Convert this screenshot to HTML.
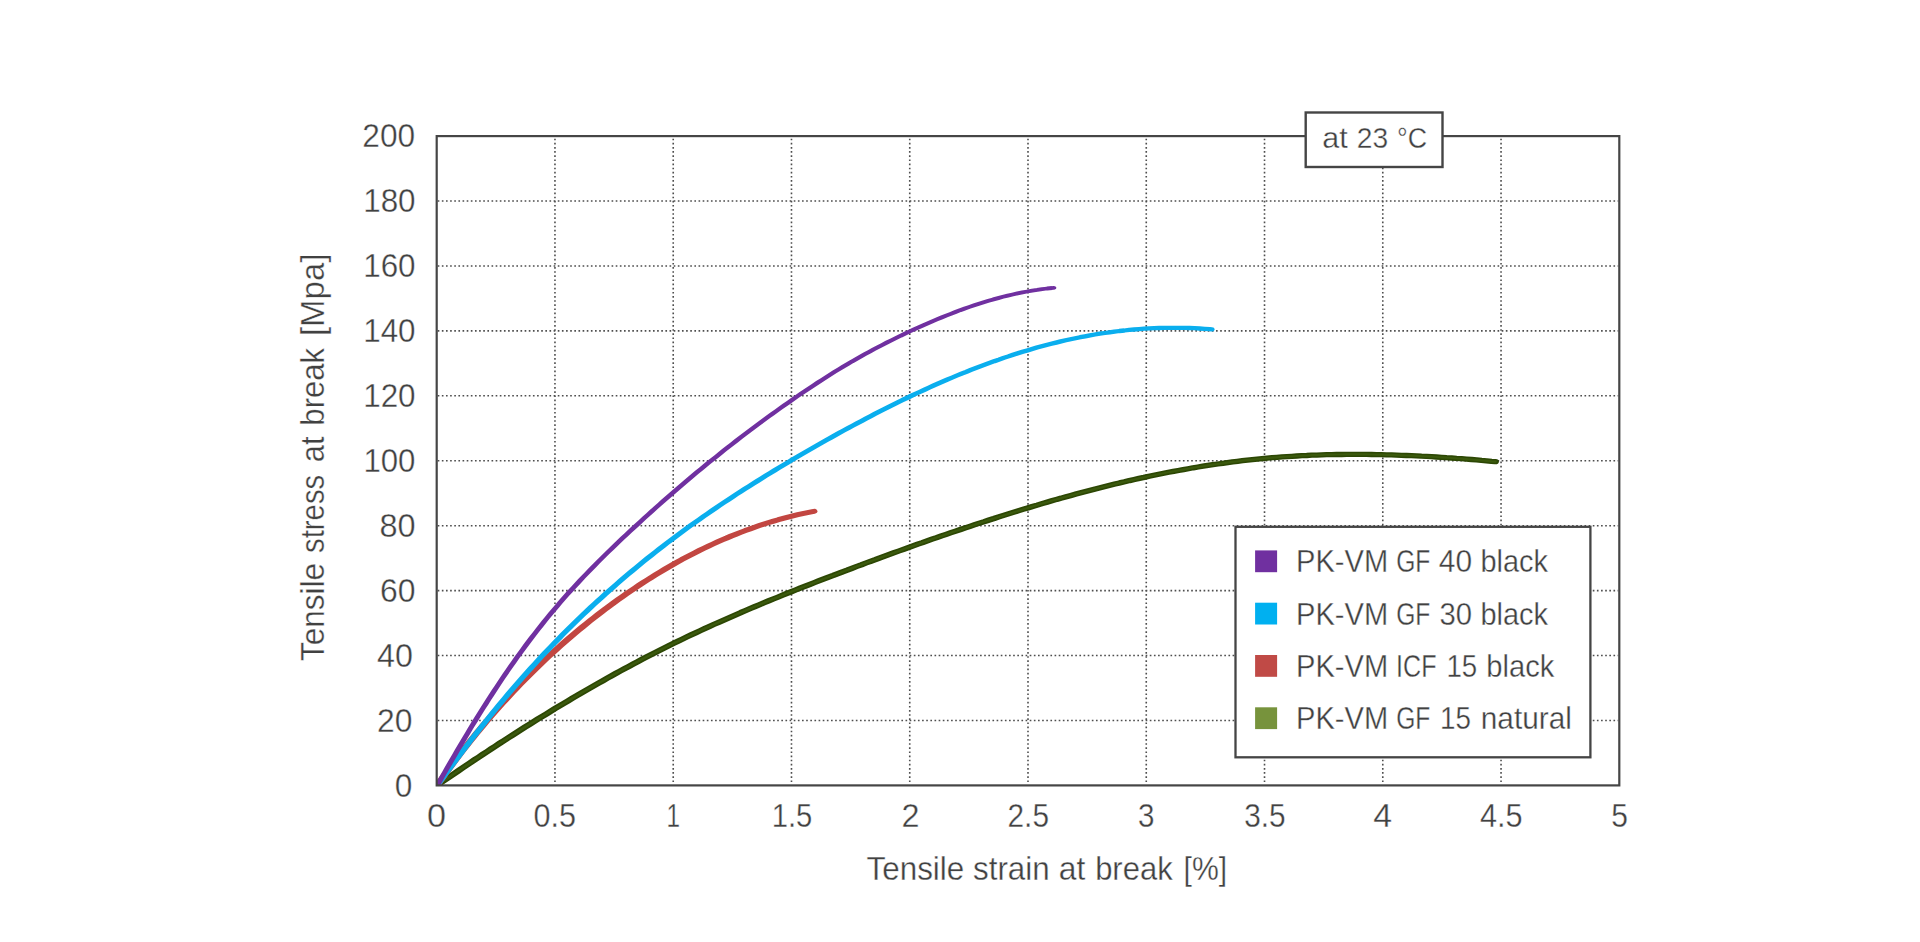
<!DOCTYPE html>
<html lang="en">
<head>
<meta charset="utf-8">
<title>Tensile stress at break vs. tensile strain at break</title>
<style>
html,body{margin:0;padding:0;background:#fff;}
body{width:1920px;height:942px;overflow:hidden;}
svg{display:block;}
svg text{font-family:"Liberation Sans",sans-serif;fill:#414141;stroke:#ffffff;stroke-width:0.35px;}
</style>
</head>
<body>
<svg width="1920" height="942" viewBox="0 0 1920 942">
<rect width="1920" height="942" fill="#ffffff"/>
<g stroke="#4e4e4e" stroke-width="1.6" stroke-dasharray="1.65 2.49" fill="none">
<line x1="554.96" y1="138.70" x2="554.96" y2="784.40"/>
<line x1="673.22" y1="138.70" x2="673.22" y2="784.40"/>
<line x1="791.48" y1="138.70" x2="791.48" y2="784.40"/>
<line x1="909.74" y1="138.70" x2="909.74" y2="784.40"/>
<line x1="1028.00" y1="138.70" x2="1028.00" y2="784.40"/>
<line x1="1146.26" y1="138.70" x2="1146.26" y2="784.40"/>
<line x1="1264.52" y1="138.70" x2="1264.52" y2="784.40"/>
<line x1="1382.78" y1="138.70" x2="1382.78" y2="784.40"/>
<line x1="1501.04" y1="138.70" x2="1501.04" y2="784.40"/>
<line x1="437.70" y1="720.47" x2="1618.30" y2="720.47"/>
<line x1="437.70" y1="655.54" x2="1618.30" y2="655.54"/>
<line x1="437.70" y1="590.61" x2="1618.30" y2="590.61"/>
<line x1="437.70" y1="525.68" x2="1618.30" y2="525.68"/>
<line x1="437.70" y1="460.75" x2="1618.30" y2="460.75"/>
<line x1="437.70" y1="395.82" x2="1618.30" y2="395.82"/>
<line x1="437.70" y1="330.89" x2="1618.30" y2="330.89"/>
<line x1="437.70" y1="265.96" x2="1618.30" y2="265.96"/>
<line x1="437.70" y1="201.03" x2="1618.30" y2="201.03"/>
</g>
<clipPath id="plotclip"><rect x="436.7" y="136.1" width="1182.6" height="649.3"/></clipPath>
<g clip-path="url(#plotclip)"><g fill="none" stroke-linecap="round" stroke-linejoin="round" transform="scale(1.4,1)">
<path d="M312.50,785.0 L315.43,782.2 L318.36,779.4 L321.30,776.6 L324.24,773.8 L327.19,771.0 L330.14,768.2 L333.10,765.4 L336.06,762.6 L339.03,759.8 L342.01,757.1 L344.99,754.3 L347.98,751.6 L350.97,748.8 L353.96,746.1 L356.97,743.3 L359.97,740.6 L362.98,737.9 L366.00,735.2 L369.02,732.5 L372.05,729.8 L375.08,727.1 L378.12,724.4 L381.16,721.8 L384.21,719.1 L387.27,716.5 L390.32,713.9 L393.39,711.2 L396.45,708.6 L399.53,706.0 L402.60,703.5 L405.68,700.9 L408.77,698.3 L411.86,695.8 L414.96,693.2 L418.06,690.7 L421.17,688.2 L424.28,685.7 L427.39,683.2 L430.51,680.8 L433.64,678.3 L436.77,675.9 L439.90,673.4 L443.04,671.0 L446.18,668.6 L449.33,666.3 L452.48,663.9 L455.63,661.6 L458.80,659.2 L461.96,656.9 L465.13,654.6 L468.30,652.4 L471.48,650.1 L474.66,647.9 L477.85,645.6 L481.04,643.4 L484.23,641.3 L487.43,639.1 L490.64,636.9 L493.84,634.8 L497.06,632.7 L500.27,630.6 L503.49,628.5 L506.71,626.5 L509.94,624.4 L513.17,622.4 L516.41,620.4 L519.65,618.4 L522.89,616.4 L526.14,614.4 L529.39,612.4 L532.64,610.5 L535.90,608.5 L539.16,606.6 L542.43,604.7 L545.70,602.8 L548.97,600.9 L552.25,599.0 L555.53,597.2 L558.82,595.3 L562.11,593.4 L565.40,591.6 L568.69,589.8 L571.99,587.9 L575.29,586.1 L578.60,584.3 L581.91,582.5 L585.22,580.7 L588.54,578.9 L591.86,577.1 L595.18,575.4 L598.51,573.6 L601.84,571.8 L605.17,570.1 L608.51,568.3 L611.84,566.5 L615.19,564.8 L618.53,563.0 L621.88,561.3 L625.23,559.6 L628.59,557.8 L631.95,556.1 L635.31,554.4 L638.67,552.7 L642.04,551.0 L645.41,549.3 L648.78,547.6 L652.16,545.9 L655.54,544.2 L658.92,542.6 L662.30,540.9 L665.69,539.2 L669.08,537.6 L672.48,535.9 L675.87,534.3 L679.27,532.7 L682.67,531.1 L686.08,529.5 L689.48,527.9 L692.89,526.3 L696.30,524.7 L699.72,523.1 L703.14,521.6 L706.55,520.0 L709.98,518.5 L713.40,516.9 L716.83,515.4 L720.26,513.9 L723.69,512.4 L727.12,510.9 L730.56,509.4 L734.00,508.0 L737.44,506.5 L740.89,505.1 L744.33,503.6 L747.78,502.2 L751.23,500.8 L754.69,499.4 L758.14,498.1 L761.60,496.7 L765.06,495.4 L768.52,494.1 L771.99,492.8 L775.45,491.5 L778.92,490.2 L782.39,488.9 L785.87,487.7 L789.34,486.5 L792.82,485.3 L796.30,484.1 L799.78,482.9 L803.26,481.8 L806.75,480.6 L810.24,479.5 L813.72,478.4 L817.22,477.4 L820.71,476.3 L824.20,475.3 L827.70,474.3 L831.20,473.3 L834.70,472.3 L838.20,471.4 L841.71,470.5 L845.22,469.6 L848.72,468.7 L852.23,467.8 L855.75,467.0 L859.26,466.2 L862.77,465.4 L866.29,464.7 L869.81,464.0 L873.33,463.3 L876.85,462.6 L880.38,461.9 L883.90,461.3 L887.43,460.7 L890.96,460.1 L894.49,459.6 L898.02,459.1 L901.55,458.6 L905.09,458.1 L908.62,457.7 L912.16,457.3 L915.70,456.9 L919.24,456.6 L922.78,456.3 L926.32,456.0 L929.87,455.7 L933.42,455.5 L936.96,455.2 L940.51,455.1 L944.06,454.9 L947.61,454.7 L951.17,454.6 L954.72,454.5 L958.27,454.5 L961.83,454.4 L965.39,454.4 L968.95,454.4 L972.51,454.4 L976.07,454.4 L979.63,454.5 L983.19,454.6 L986.76,454.7 L990.32,454.8 L993.89,454.9 L997.46,455.1 L1001.03,455.3 L1004.60,455.5 L1008.17,455.7 L1011.74,455.9 L1015.31,456.2 L1018.88,456.4 L1022.46,456.7 L1026.03,457.0 L1029.61,457.3 L1033.19,457.7 L1036.76,458.0 L1040.34,458.4 L1043.92,458.7 L1047.50,459.1 L1051.08,459.5 L1054.66,459.9 L1058.25,460.4 L1061.83,460.8 L1065.41,461.3 L1068.00,461.6" stroke="#2c4704" stroke-width="5.3"/>
<path d="M312.50,785.0 L315.43,782.2 L318.36,779.4 L321.30,776.6 L324.24,773.8 L327.19,771.0 L330.14,768.2 L333.10,765.4 L336.06,762.6 L339.03,759.8 L342.01,757.1 L344.99,754.3 L347.98,751.6 L350.97,748.8 L353.96,746.1 L356.97,743.3 L359.97,740.6 L362.98,737.9 L366.00,735.2 L369.02,732.5 L372.05,729.8 L375.08,727.1 L378.12,724.4 L381.16,721.8 L384.21,719.1 L387.27,716.5 L390.32,713.9 L393.39,711.2 L396.45,708.6 L399.53,706.0 L402.60,703.5 L405.68,700.9 L408.77,698.3 L411.86,695.8 L414.96,693.2 L418.06,690.7 L421.17,688.2 L424.28,685.7 L427.39,683.2 L430.51,680.8 L433.64,678.3 L436.77,675.9 L439.90,673.4 L443.04,671.0 L446.18,668.6 L449.33,666.3 L452.48,663.9 L455.63,661.6 L458.80,659.2 L461.96,656.9 L465.13,654.6 L468.30,652.4 L471.48,650.1 L474.66,647.9 L477.85,645.6 L481.04,643.4 L484.23,641.3 L487.43,639.1 L490.64,636.9 L493.84,634.8 L497.06,632.7 L500.27,630.6 L503.49,628.5 L506.71,626.5 L509.94,624.4 L513.17,622.4 L516.41,620.4 L519.65,618.4 L522.89,616.4 L526.14,614.4 L529.39,612.4 L532.64,610.5 L535.90,608.5 L539.16,606.6 L542.43,604.7 L545.70,602.8 L548.97,600.9 L552.25,599.0 L555.53,597.2 L558.82,595.3 L562.11,593.4 L565.40,591.6 L568.69,589.8 L571.99,587.9 L575.29,586.1 L578.60,584.3 L581.91,582.5 L585.22,580.7 L588.54,578.9 L591.86,577.1 L595.18,575.4 L598.51,573.6 L601.84,571.8 L605.17,570.1 L608.51,568.3 L611.84,566.5 L615.19,564.8 L618.53,563.0 L621.88,561.3 L625.23,559.6 L628.59,557.8 L631.95,556.1 L635.31,554.4 L638.67,552.7 L642.04,551.0 L645.41,549.3 L648.78,547.6 L652.16,545.9 L655.54,544.2 L658.92,542.6 L662.30,540.9 L665.69,539.2 L669.08,537.6 L672.48,535.9 L675.87,534.3 L679.27,532.7 L682.67,531.1 L686.08,529.5 L689.48,527.9 L692.89,526.3 L696.30,524.7 L699.72,523.1 L703.14,521.6 L706.55,520.0 L709.98,518.5 L713.40,516.9 L716.83,515.4 L720.26,513.9 L723.69,512.4 L727.12,510.9 L730.56,509.4 L734.00,508.0 L737.44,506.5 L740.89,505.1 L744.33,503.6 L747.78,502.2 L751.23,500.8 L754.69,499.4 L758.14,498.1 L761.60,496.7 L765.06,495.4 L768.52,494.1 L771.99,492.8 L775.45,491.5 L778.92,490.2 L782.39,488.9 L785.87,487.7 L789.34,486.5 L792.82,485.3 L796.30,484.1 L799.78,482.9 L803.26,481.8 L806.75,480.6 L810.24,479.5 L813.72,478.4 L817.22,477.4 L820.71,476.3 L824.20,475.3 L827.70,474.3 L831.20,473.3 L834.70,472.3 L838.20,471.4 L841.71,470.5 L845.22,469.6 L848.72,468.7 L852.23,467.8 L855.75,467.0 L859.26,466.2 L862.77,465.4 L866.29,464.7 L869.81,464.0 L873.33,463.3 L876.85,462.6 L880.38,461.9 L883.90,461.3 L887.43,460.7 L890.96,460.1 L894.49,459.6 L898.02,459.1 L901.55,458.6 L905.09,458.1 L908.62,457.7 L912.16,457.3 L915.70,456.9 L919.24,456.6 L922.78,456.3 L926.32,456.0 L929.87,455.7 L933.42,455.5 L936.96,455.2 L940.51,455.1 L944.06,454.9 L947.61,454.7 L951.17,454.6 L954.72,454.5 L958.27,454.5 L961.83,454.4 L965.39,454.4 L968.95,454.4 L972.51,454.4 L976.07,454.4 L979.63,454.5 L983.19,454.6 L986.76,454.7 L990.32,454.8 L993.89,454.9 L997.46,455.1 L1001.03,455.3 L1004.60,455.5 L1008.17,455.7 L1011.74,455.9 L1015.31,456.2 L1018.88,456.4 L1022.46,456.7 L1026.03,457.0 L1029.61,457.3 L1033.19,457.7 L1036.76,458.0 L1040.34,458.4 L1043.92,458.7 L1047.50,459.1 L1051.08,459.5 L1054.66,459.9 L1058.25,460.4 L1061.83,460.8 L1065.41,461.3 L1068.00,461.6" stroke="#3b590d" stroke-width="2.2"/>
<path d="M312.50,785.0 L314.53,780.9 L316.59,776.9 L318.66,772.8 L320.75,768.8 L322.85,764.8 L324.98,760.8 L327.12,756.8 L329.29,752.9 L331.47,748.9 L333.67,745.0 L335.88,741.1 L338.12,737.2 L340.37,733.3 L342.64,729.4 L344.93,725.6 L347.24,721.8 L349.56,718.0 L351.91,714.2 L354.26,710.4 L356.64,706.7 L359.04,703.0 L361.45,699.3 L363.88,695.6 L366.32,691.9 L368.79,688.3 L371.27,684.7 L373.77,681.1 L376.28,677.5 L378.81,674.0 L381.36,670.5 L383.93,667.0 L386.51,663.5 L389.11,660.1 L391.73,656.6 L394.36,653.2 L397.01,649.9 L399.67,646.5 L402.36,643.2 L405.05,639.9 L407.77,636.6 L410.50,633.4 L413.25,630.2 L416.01,627.0 L418.79,623.8 L421.58,620.7 L424.39,617.6 L427.22,614.5 L430.06,611.5 L432.92,608.4 L435.80,605.5 L438.69,602.5 L441.59,599.6 L444.51,596.7 L447.45,593.8 L450.40,591.0 L453.37,588.2 L456.35,585.4 L459.35,582.7 L462.36,580.0 L465.38,577.3 L468.43,574.7 L471.48,572.1 L474.56,569.5 L477.64,567.0 L480.75,564.5 L483.86,562.1 L486.99,559.6 L490.14,557.3 L493.30,555.0 L496.47,552.7 L499.66,550.4 L502.87,548.2 L506.08,546.1 L509.32,544.0 L512.56,541.9 L515.82,539.9 L519.10,538.0 L522.38,536.0 L525.69,534.2 L529.00,532.4 L532.33,530.6 L535.67,528.9 L539.03,527.2 L542.40,525.6 L545.78,524.0 L549.18,522.5 L552.59,521.1 L556.02,519.7 L559.45,518.4 L562.90,517.1 L566.37,515.9 L569.85,514.7 L573.34,513.6 L576.84,512.6 L580.35,511.6 L581.43,511.3" stroke="#c24641" stroke-width="5.0"/>
<path d="M312.50,785.0 L314.61,780.9 L316.73,776.9 L318.86,772.8 L320.99,768.8 L323.12,764.7 L325.27,760.7 L327.42,756.7 L329.57,752.7 L331.74,748.7 L333.91,744.7 L336.09,740.8 L338.27,736.8 L340.47,732.9 L342.67,729.0 L344.89,725.1 L347.11,721.2 L349.34,717.3 L351.58,713.4 L353.83,709.5 L356.09,705.7 L358.37,701.8 L360.65,698.0 L362.94,694.2 L365.25,690.4 L367.57,686.6 L369.90,682.9 L372.24,679.1 L374.59,675.4 L376.96,671.7 L379.34,668.0 L381.74,664.3 L384.15,660.6 L386.57,656.9 L389.01,653.3 L391.46,649.7 L393.92,646.1 L396.40,642.5 L398.90,638.9 L401.40,635.3 L403.92,631.8 L406.46,628.2 L409.01,624.7 L411.57,621.2 L414.14,617.8 L416.73,614.3 L419.33,610.9 L421.94,607.4 L424.56,604.0 L427.20,600.6 L429.85,597.3 L432.51,593.9 L435.18,590.6 L437.86,587.3 L440.56,584.0 L443.26,580.7 L445.98,577.4 L448.71,574.2 L451.45,571.0 L454.20,567.8 L456.96,564.6 L459.73,561.4 L462.51,558.3 L465.30,555.2 L468.10,552.1 L470.91,549.0 L473.73,546.0 L476.56,542.9 L479.40,539.9 L482.25,536.9 L485.10,533.9 L487.97,531.0 L490.85,528.1 L493.73,525.1 L496.62,522.3 L499.52,519.4 L502.43,516.5 L505.35,513.7 L508.28,510.9 L511.21,508.1 L514.16,505.3 L517.11,502.5 L520.07,499.8 L523.04,497.1 L526.01,494.3 L529.00,491.6 L531.99,488.9 L534.99,486.3 L537.99,483.6 L541.01,481.0 L544.03,478.3 L547.06,475.7 L550.10,473.1 L553.14,470.5 L556.20,467.9 L559.26,465.3 L562.32,462.8 L565.40,460.2 L568.48,457.7 L571.56,455.1 L574.66,452.6 L577.76,450.1 L580.87,447.6 L583.98,445.1 L587.10,442.6 L590.23,440.1 L593.36,437.7 L596.50,435.2 L599.65,432.8 L602.80,430.4 L605.96,428.0 L609.13,425.6 L612.30,423.2 L615.47,420.9 L618.66,418.5 L621.85,416.2 L625.04,413.8 L628.24,411.5 L631.45,409.3 L634.66,407.0 L637.88,404.7 L641.10,402.5 L644.33,400.3 L647.56,398.1 L650.81,395.9 L654.05,393.8 L657.31,391.7 L660.57,389.6 L663.83,387.5 L667.10,385.4 L670.38,383.4 L673.67,381.4 L676.96,379.4 L680.25,377.5 L683.55,375.5 L686.86,373.6 L690.18,371.8 L693.50,369.9 L696.82,368.1 L700.16,366.3 L703.50,364.6 L706.84,362.9 L710.19,361.2 L713.55,359.6 L716.92,357.9 L720.29,356.4 L723.66,354.8 L727.05,353.3 L730.44,351.8 L733.83,350.4 L737.23,349.0 L740.64,347.6 L744.06,346.3 L747.48,345.0 L750.90,343.8 L754.34,342.6 L757.78,341.4 L761.23,340.3 L764.68,339.2 L768.14,338.2 L771.61,337.2 L775.08,336.3 L778.56,335.4 L782.04,334.5 L785.54,333.7 L789.04,333.0 L792.54,332.3 L796.05,331.6 L799.57,331.0 L803.10,330.5 L806.63,329.9 L810.17,329.5 L813.71,329.1 L817.27,328.7 L820.83,328.4 L824.39,328.2 L827.96,328.0 L831.54,327.9 L835.13,327.8 L838.72,327.8 L842.32,327.8 L845.93,327.9 L849.54,328.0 L853.16,328.2 L856.79,328.5 L860.42,328.8 L864.06,329.2 L865.43,329.4" stroke="#0aaeee" stroke-width="4.3"/>
<path d="M312.50,785.0 L314.24,780.7 L315.99,776.4 L317.74,772.1 L319.50,767.8 L321.27,763.5 L323.05,759.2 L324.84,754.9 L326.64,750.6 L328.45,746.3 L330.27,742.0 L332.09,737.7 L333.93,733.4 L335.78,729.1 L337.64,724.8 L339.52,720.6 L341.40,716.3 L343.30,712.0 L345.20,707.8 L347.13,703.6 L349.06,699.3 L351.01,695.1 L352.97,690.9 L354.94,686.7 L356.93,682.5 L358.93,678.3 L360.95,674.2 L362.98,670.0 L365.02,665.9 L367.09,661.8 L369.16,657.7 L371.26,653.6 L373.37,649.6 L375.50,645.5 L377.64,641.5 L379.80,637.5 L381.98,633.6 L384.17,629.6 L386.39,625.7 L388.62,621.8 L390.87,617.9 L393.14,614.0 L395.43,610.2 L397.74,606.4 L400.06,602.6 L402.41,598.8 L404.77,595.1 L407.15,591.4 L409.55,587.7 L411.97,584.1 L414.40,580.4 L416.85,576.8 L419.31,573.2 L421.79,569.6 L424.28,566.1 L426.78,562.5 L429.30,559.0 L431.83,555.5 L434.37,552.0 L436.92,548.6 L439.48,545.1 L442.06,541.7 L444.64,538.2 L447.24,534.8 L449.84,531.4 L452.45,528.0 L455.07,524.7 L457.69,521.3 L460.32,517.9 L462.96,514.6 L465.61,511.3 L468.27,507.9 L470.93,504.6 L473.60,501.3 L476.28,498.0 L478.96,494.8 L481.66,491.5 L484.36,488.2 L487.07,485.0 L489.78,481.8 L492.51,478.5 L495.24,475.3 L497.98,472.1 L500.73,469.0 L503.49,465.8 L506.25,462.6 L509.03,459.5 L511.81,456.4 L514.60,453.2 L517.40,450.1 L520.20,447.0 L523.02,444.0 L525.84,440.9 L528.68,437.8 L531.52,434.8 L534.37,431.8 L537.23,428.8 L540.10,425.8 L542.97,422.8 L545.86,419.8 L548.75,416.8 L551.66,413.9 L554.57,411.0 L557.49,408.0 L560.42,405.1 L563.36,402.3 L566.31,399.4 L569.27,396.5 L572.24,393.7 L575.22,390.9 L578.21,388.1 L581.20,385.3 L584.21,382.5 L587.23,379.8 L590.25,377.1 L593.29,374.4 L596.33,371.7 L599.39,369.1 L602.45,366.5 L605.53,364.0 L608.62,361.4 L611.71,359.0 L614.82,356.5 L617.93,354.1 L621.06,351.7 L624.19,349.3 L627.34,347.0 L630.50,344.7 L633.67,342.4 L636.84,340.2 L640.03,338.0 L643.23,335.8 L646.44,333.7 L649.66,331.5 L652.89,329.4 L656.13,327.4 L659.39,325.3 L662.65,323.3 L665.92,321.3 L669.21,319.4 L672.51,317.5 L675.81,315.6 L679.13,313.8 L682.46,312.0 L685.81,310.2 L689.16,308.5 L692.52,306.9 L695.90,305.3 L699.29,303.7 L702.68,302.2 L706.09,300.8 L709.52,299.4 L712.95,298.1 L716.39,296.8 L719.85,295.6 L723.32,294.5 L726.80,293.4 L730.29,292.4 L733.80,291.5 L737.31,290.6 L740.84,289.9 L744.38,289.1 L747.94,288.5 L751.50,288.0 L752.64,287.8" stroke="#7030a0" stroke-width="3.8"/>
</g></g>
<rect x="436.7" y="136.1" width="1182.6" height="649.3" fill="none" stroke="#454545" stroke-width="2.2"/>
<rect x="1305.7" y="112.5" width="136.8" height="54.5" fill="#ffffff" stroke="#454545" stroke-width="2.4"/>
<rect x="1235.5" y="526.8" width="354.9" height="230.5" fill="#ffffff" stroke="#454545" stroke-width="2.3"/>
<rect x="1255.1" y="550.4" width="22" height="21.8" fill="#7030a0"/><rect x="1255.1" y="602.7" width="22" height="21.8" fill="#00b0f0"/><rect x="1255.1" y="655.0" width="22" height="21.8" fill="#c04a46"/><rect x="1255.1" y="707.3" width="22" height="21.8" fill="#77933c"/>
<g>
<text y="796.70" font-size="33.0"><tspan x="394.78" textLength="17.58" lengthAdjust="spacingAndGlyphs">0</tspan></text>
<text y="731.77" font-size="33.0"><tspan x="376.95" textLength="35.40" lengthAdjust="spacingAndGlyphs">20</tspan></text>
<text y="666.84" font-size="33.0"><tspan x="376.93" textLength="35.94" lengthAdjust="spacingAndGlyphs">40</tspan></text>
<text y="601.91" font-size="33.0"><tspan x="379.94" textLength="35.51" lengthAdjust="spacingAndGlyphs">60</tspan></text>
<text y="536.98" font-size="33.0"><tspan x="379.38" textLength="36.10" lengthAdjust="spacingAndGlyphs">80</tspan></text>
<text y="472.05" font-size="33.0"><tspan x="363.40" textLength="52.06" lengthAdjust="spacingAndGlyphs">100</tspan></text>
<text y="407.12" font-size="33.0"><tspan x="363.19" textLength="52.38" lengthAdjust="spacingAndGlyphs">120</tspan></text>
<text y="342.19" font-size="33.0"><tspan x="363.19" textLength="52.38" lengthAdjust="spacingAndGlyphs">140</tspan></text>
<text y="277.26" font-size="33.0"><tspan x="363.19" textLength="52.38" lengthAdjust="spacingAndGlyphs">160</tspan></text>
<text y="212.33" font-size="33.0"><tspan x="363.19" textLength="52.38" lengthAdjust="spacingAndGlyphs">180</tspan></text>
<text y="147.40" font-size="33.0"><tspan x="362.36" textLength="52.82" lengthAdjust="spacingAndGlyphs">200</tspan></text>
<text y="827.20" font-size="33.0"><tspan x="427.06" textLength="19.02" lengthAdjust="spacingAndGlyphs">0</tspan></text>
<text y="827.20" font-size="33.0"><tspan x="533.42" textLength="42.51" lengthAdjust="spacingAndGlyphs">0.5</tspan></text>
<text y="827.20" font-size="33.0"><tspan x="666.46" textLength="13.51" lengthAdjust="spacingAndGlyphs">1</tspan></text>
<text y="827.20" font-size="33.0"><tspan x="771.66" textLength="40.60" lengthAdjust="spacingAndGlyphs">1.5</tspan></text>
<text y="827.20" font-size="33.0"><tspan x="901.62" textLength="18.00" lengthAdjust="spacingAndGlyphs">2</tspan></text>
<text y="827.20" font-size="33.0"><tspan x="1007.56" textLength="41.43" lengthAdjust="spacingAndGlyphs">2.5</tspan></text>
<text y="827.20" font-size="33.0"><tspan x="1138.07" textLength="16.45" lengthAdjust="spacingAndGlyphs">3</tspan></text>
<text y="827.20" font-size="33.0"><tspan x="1244.26" textLength="41.44" lengthAdjust="spacingAndGlyphs">3.5</tspan></text>
<text y="827.20" font-size="33.0"><tspan x="1373.28" textLength="18.84" lengthAdjust="spacingAndGlyphs">4</tspan></text>
<text y="827.20" font-size="33.0"><tspan x="1479.98" textLength="42.66" lengthAdjust="spacingAndGlyphs">4.5</tspan></text>
<text y="827.20" font-size="33.0"><tspan x="1611.30" textLength="16.69" lengthAdjust="spacingAndGlyphs">5</tspan></text>
<text y="879.70" font-size="33.8"><tspan x="866.56" textLength="97.70" lengthAdjust="spacingAndGlyphs">Tensile</tspan> <tspan x="973.00" textLength="76.70" lengthAdjust="spacingAndGlyphs">strain</tspan> <tspan x="1058.71" textLength="26.54" lengthAdjust="spacingAndGlyphs">at</tspan> <tspan x="1095.13" textLength="77.53" lengthAdjust="spacingAndGlyphs">break</tspan> <tspan x="1183.54" textLength="43.62" lengthAdjust="spacingAndGlyphs">[%]</tspan></text>
<text transform="translate(324.00,0) rotate(-90)" font-size="33.8"><tspan x="-661.15" textLength="98.32" lengthAdjust="spacingAndGlyphs">Tensile</tspan> <tspan x="-553.03" textLength="78.26" lengthAdjust="spacingAndGlyphs">stress</tspan> <tspan x="-462.25" textLength="25.78" lengthAdjust="spacingAndGlyphs">at</tspan> <tspan x="-425.68" textLength="77.84" lengthAdjust="spacingAndGlyphs">break</tspan> <tspan x="-336.08" textLength="82.59" lengthAdjust="spacingAndGlyphs">[Mpa]</tspan></text>
<text y="148.30" font-size="29.4"><tspan x="1322.23" textLength="25.40" lengthAdjust="spacingAndGlyphs">at</tspan> <tspan x="1356.75" textLength="31.39" lengthAdjust="spacingAndGlyphs">23</tspan> <tspan x="1397.01" textLength="30.05" lengthAdjust="spacingAndGlyphs">°C</tspan></text>
<text y="572.20" font-size="31.8"><tspan x="1295.98" textLength="92.15" lengthAdjust="spacingAndGlyphs">PK-VM</tspan> <tspan x="1396.15" textLength="34.15" lengthAdjust="spacingAndGlyphs">GF</tspan> <tspan x="1438.80" textLength="33.26" lengthAdjust="spacingAndGlyphs">40</tspan> <tspan x="1480.47" textLength="67.60" lengthAdjust="spacingAndGlyphs">black</tspan></text>
<text y="624.70" font-size="31.8"><tspan x="1295.98" textLength="92.15" lengthAdjust="spacingAndGlyphs">PK-VM</tspan> <tspan x="1396.15" textLength="34.15" lengthAdjust="spacingAndGlyphs">GF</tspan> <tspan x="1439.48" textLength="32.56" lengthAdjust="spacingAndGlyphs">30</tspan> <tspan x="1480.47" textLength="67.60" lengthAdjust="spacingAndGlyphs">black</tspan></text>
<text y="677.00" font-size="31.8"><tspan x="1295.98" textLength="92.15" lengthAdjust="spacingAndGlyphs">PK-VM</tspan> <tspan x="1396.09" textLength="40.36" lengthAdjust="spacingAndGlyphs">ICF</tspan> <tspan x="1446.38" textLength="30.83" lengthAdjust="spacingAndGlyphs">15</tspan> <tspan x="1486.36" textLength="68.02" lengthAdjust="spacingAndGlyphs">black</tspan></text>
<text y="729.40" font-size="31.8"><tspan x="1295.98" textLength="92.15" lengthAdjust="spacingAndGlyphs">PK-VM</tspan> <tspan x="1396.15" textLength="34.15" lengthAdjust="spacingAndGlyphs">GF</tspan> <tspan x="1440.07" textLength="30.94" lengthAdjust="spacingAndGlyphs">15</tspan> <tspan x="1480.77" textLength="91.10" lengthAdjust="spacingAndGlyphs">natural</tspan></text>
</g>
</svg>
</body>
</html>
